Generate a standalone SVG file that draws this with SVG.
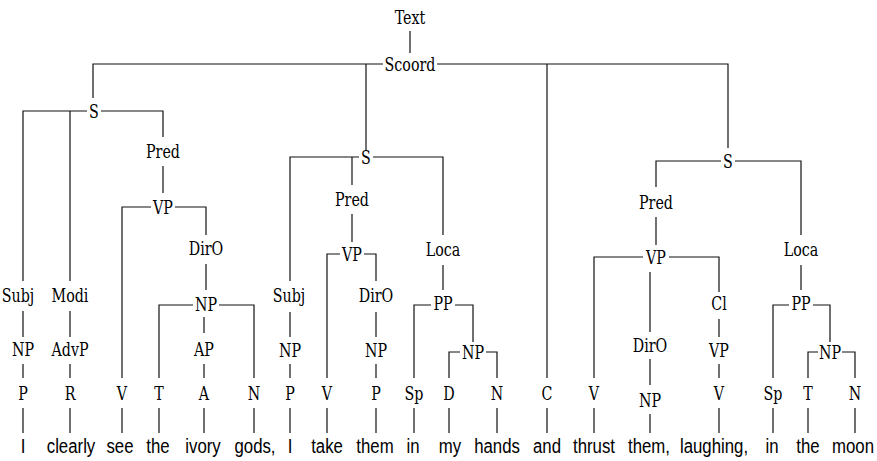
<svg xmlns="http://www.w3.org/2000/svg" width="877" height="461" viewBox="0 0 877 461">
<style>
.edge path{fill:none;stroke:#111;stroke-width:1.2}
.lab{font-family:"DejaVu Serif","Liberation Serif",serif;font-size:19px;text-anchor:middle;fill:#000}
.wd{font-family:"Liberation Sans",Arial,sans-serif;font-size:21px;text-anchor:middle;fill:#000}
</style>
<rect width="877" height="461" fill="#fff"/>
<g id="connectors" class="edge">
<path d="M410 31V53"/>
<path d="M93 98V64H383"/>
<path d="M437 64H728V148"/>
<path d="M366 64V151"/>
<path d="M547 64V378"/>
<path d="M23 281V111H87"/>
<path d="M101 111H163V137"/>
<path d="M70 111V281"/>
<path d="M163 166V193"/>
<path d="M122 378V207H151"/>
<path d="M175 207H206V235"/>
<path d="M206 264V290"/>
<path d="M159 378V305H193"/>
<path d="M219 305H254V378"/>
<path d="M204 317V333"/>
<path d="M23 311V337"/>
<path d="M70 311V337"/>
<path d="M23 364V378"/>
<path d="M70 364V378"/>
<path d="M204 364V378"/>
<path d="M23 408V433M70 408V433M122 408V433M159 408V433M204 408V433M254 408V433"/>
<path d="M290 281V157H359"/>
<path d="M373 157H443V235"/>
<path d="M352 157V185"/>
<path d="M352 214V242"/>
<path d="M327 378V254H340"/>
<path d="M364 254H376V281"/>
<path d="M376 312V337"/>
<path d="M290 312V337"/>
<path d="M290 364V378"/>
<path d="M376 364V378"/>
<path d="M443 265V290"/>
<path d="M414 378V305H431"/>
<path d="M455 305H473V342"/>
<path d="M449 378V352H460"/>
<path d="M486 352H497V378"/>
<path d="M290 408V433M327 408V433M376 408V433M414 408V433M449 408V433M497 408V433M547 408V433"/>
<path d="M656 187V161H721"/>
<path d="M735 161H801V235"/>
<path d="M656 217V245"/>
<path d="M594 378V257H643"/>
<path d="M669 257H719V292"/>
<path d="M650 272V332"/>
<path d="M650 359V385"/>
<path d="M650 414V433"/>
<path d="M719 319V337"/>
<path d="M719 364V378"/>
<path d="M801 265V290"/>
<path d="M773 378V305H789"/>
<path d="M813 305H830V342"/>
<path d="M808 378V352H818"/>
<path d="M842 352H855V378"/>
<path d="M594 408V433M719 408V433M773 408V433M808 408V433M855 408V433"/>
</g>
<g id="n-text"><text class="lab" transform="translate(410 24) scale(.75 1)">Text</text></g>
<g id="n-scoord"><text class="lab" transform="translate(410 71) scale(.75 1)">Scoord</text></g>
<g id="n-s1"><text class="lab" transform="translate(94 118) scale(.75 1)">S</text></g>
<g id="n-subj1"><text class="lab" transform="translate(18 302) scale(.75 1)">Subj</text></g>
<g id="n-modi"><text class="lab" transform="translate(70 302) scale(.75 1)">Modi</text></g>
<g id="n-pred1"><text class="lab" transform="translate(163 158) scale(.75 1)">Pred</text></g>
<g id="n-vp1"><text class="lab" transform="translate(163 214) scale(.75 1)">VP</text></g>
<g id="n-diro1"><text class="lab" transform="translate(206 255) scale(.75 1)">DirO</text></g>
<g id="n-np1"><text class="lab" transform="translate(206 311) scale(.75 1)">NP</text></g>
<g id="n-np1s"><text class="lab" transform="translate(23 356) scale(.75 1)">NP</text></g>
<g id="n-advp"><text class="lab" transform="translate(70 356) scale(.75 1)">AdvP</text></g>
<g id="n-ap"><text class="lab" transform="translate(204 356) scale(.75 1)">AP</text></g>
<g id="n-p1"><text class="lab" transform="translate(23 400) scale(.75 1)">P</text></g>
<g id="n-r"><text class="lab" transform="translate(70 400) scale(.75 1)">R</text></g>
<g id="n-v1"><text class="lab" transform="translate(122 400) scale(.75 1)">V</text></g>
<g id="n-t1"><text class="lab" transform="translate(159 400) scale(.75 1)">T</text></g>
<g id="n-a"><text class="lab" transform="translate(204 400) scale(.75 1)">A</text></g>
<g id="n-n1"><text class="lab" transform="translate(254 400) scale(.75 1)">N</text></g>
<g id="n-s2"><text class="lab" transform="translate(366 164) scale(.75 1)">S</text></g>
<g id="n-subj2"><text class="lab" transform="translate(289 302) scale(.75 1)">Subj</text></g>
<g id="n-pred2"><text class="lab" transform="translate(352 206) scale(.75 1)">Pred</text></g>
<g id="n-vp2"><text class="lab" transform="translate(352 261) scale(.75 1)">VP</text></g>
<g id="n-diro2"><text class="lab" transform="translate(376 302) scale(.75 1)">DirO</text></g>
<g id="n-np2"><text class="lab" transform="translate(376 357) scale(.75 1)">NP</text></g>
<g id="n-np2s"><text class="lab" transform="translate(290 357) scale(.75 1)">NP</text></g>
<g id="n-loca2"><text class="lab" transform="translate(443 256) scale(.75 1)">Loca</text></g>
<g id="n-pp2"><text class="lab" transform="translate(443 310) scale(.75 1)">PP</text></g>
<g id="n-np2b"><text class="lab" transform="translate(473 359) scale(.75 1)">NP</text></g>
<g id="n-p2"><text class="lab" transform="translate(290 400) scale(.75 1)">P</text></g>
<g id="n-v2"><text class="lab" transform="translate(327 400) scale(.75 1)">V</text></g>
<g id="n-p2b"><text class="lab" transform="translate(376 400) scale(.75 1)">P</text></g>
<g id="n-sp2"><text class="lab" transform="translate(414 400) scale(.75 1)">Sp</text></g>
<g id="n-d"><text class="lab" transform="translate(449 400) scale(.75 1)">D</text></g>
<g id="n-n2"><text class="lab" transform="translate(497 400) scale(.75 1)">N</text></g>
<g id="n-c"><text class="lab" transform="translate(547 400) scale(.75 1)">C</text></g>
<g id="n-s3"><text class="lab" transform="translate(728 168) scale(.75 1)">S</text></g>
<g id="n-pred3"><text class="lab" transform="translate(656 209) scale(.75 1)">Pred</text></g>
<g id="n-vp3"><text class="lab" transform="translate(656 264) scale(.75 1)">VP</text></g>
<g id="n-diro3"><text class="lab" transform="translate(650 352) scale(.75 1)">DirO</text></g>
<g id="n-np3"><text class="lab" transform="translate(650 407) scale(.75 1)">NP</text></g>
<g id="n-cl"><text class="lab" transform="translate(719 310) scale(.75 1)">Cl</text></g>
<g id="n-vp3b"><text class="lab" transform="translate(719 357) scale(.75 1)">VP</text></g>
<g id="n-v3b"><text class="lab" transform="translate(719 400) scale(.75 1)">V</text></g>
<g id="n-v3"><text class="lab" transform="translate(594 400) scale(.75 1)">V</text></g>
<g id="n-loca3"><text class="lab" transform="translate(801 256) scale(.75 1)">Loca</text></g>
<g id="n-pp3"><text class="lab" transform="translate(801 310) scale(.75 1)">PP</text></g>
<g id="n-np3b"><text class="lab" transform="translate(830 359) scale(.75 1)">NP</text></g>
<g id="n-sp3"><text class="lab" transform="translate(773 400) scale(.75 1)">Sp</text></g>
<g id="n-t3"><text class="lab" transform="translate(808 400) scale(.75 1)">T</text></g>
<g id="n-n3"><text class="lab" transform="translate(855 400) scale(.75 1)">N</text></g>
<g id="w-i1"><text class="wd" transform="translate(23 453) scale(.8 1)">I</text></g>
<g id="w-clearly"><text class="wd" transform="translate(71 453) scale(.8 1)">clearly</text></g>
<g id="w-see"><text class="wd" transform="translate(120 453) scale(.8 1)">see</text></g>
<g id="w-the1"><text class="wd" transform="translate(158 453) scale(.8 1)">the</text></g>
<g id="w-ivory"><text class="wd" transform="translate(203 453) scale(.8 1)">ivory</text></g>
<g id="w-gods"><text class="wd" transform="translate(255 453) scale(.8 1)">gods,</text></g>
<g id="w-i2"><text class="wd" transform="translate(290 453) scale(.8 1)">I</text></g>
<g id="w-take"><text class="wd" transform="translate(327 453) scale(.8 1)">take</text></g>
<g id="w-them1"><text class="wd" transform="translate(375 453) scale(.8 1)">them</text></g>
<g id="w-in1"><text class="wd" transform="translate(413 453) scale(.8 1)">in</text></g>
<g id="w-my"><text class="wd" transform="translate(450 453) scale(.8 1)">my</text></g>
<g id="w-hands"><text class="wd" transform="translate(497 453) scale(.8 1)">hands</text></g>
<g id="w-and"><text class="wd" transform="translate(547 453) scale(.8 1)">and</text></g>
<g id="w-thrust"><text class="wd" transform="translate(594 453) scale(.8 1)">thrust</text></g>
<g id="w-them2"><text class="wd" transform="translate(649 453) scale(.8 1)">them,</text></g>
<g id="w-laughing"><text class="wd" transform="translate(714 453) scale(.8 1)">laughing,</text></g>
<g id="w-in2"><text class="wd" transform="translate(772 453) scale(.8 1)">in</text></g>
<g id="w-the2"><text class="wd" transform="translate(808 453) scale(.8 1)">the</text></g>
<g id="w-moon"><text class="wd" transform="translate(853 453) scale(.8 1)">moon</text></g>
</svg>
